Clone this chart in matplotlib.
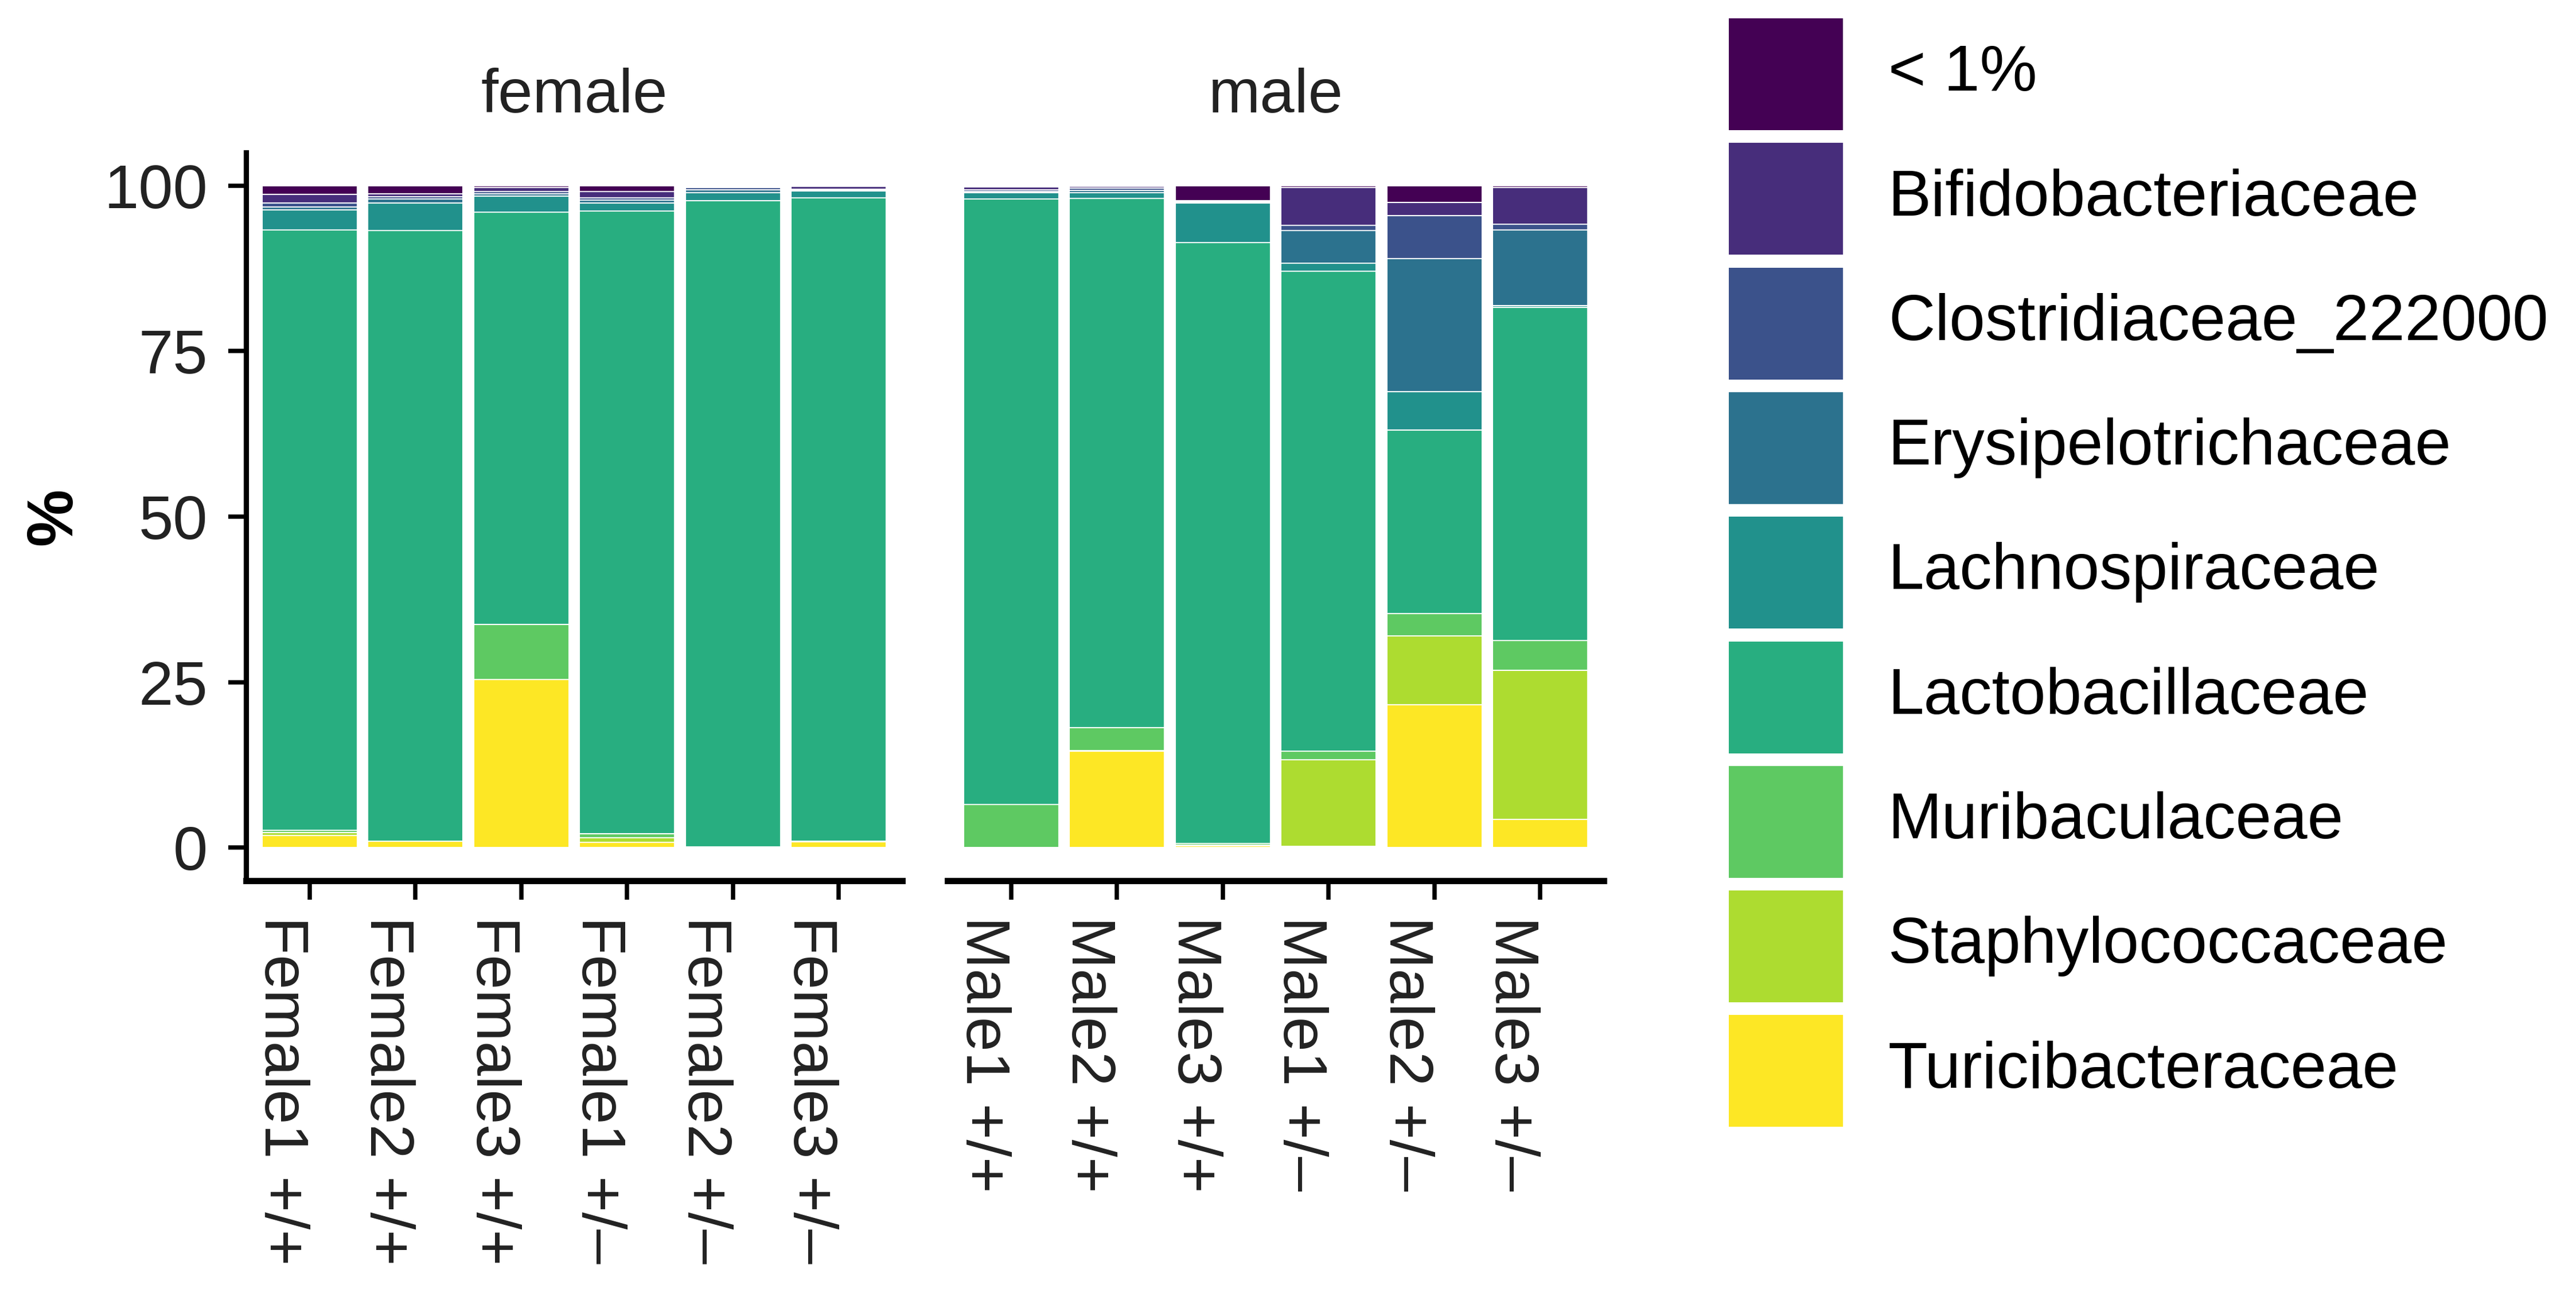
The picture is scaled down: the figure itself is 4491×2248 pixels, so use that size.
import matplotlib

matplotlib.use("Agg")
import matplotlib.pyplot as plt
import numpy as np
from matplotlib.patches import Rectangle

plt.rcParams["font.family"] = ["Liberation Sans", "DejaVu Sans"]

samples = ["Female1 +/+", "Female2 +/+", "Female3 +/+", "Female1 +/–", "Female2 +/–", "Female3 +/–",
           "Male1 +/+", "Male2 +/+", "Male3 +/+", "Male1 +/–", "Male2 +/–", "Male3 +/–"]
sex = ["female"] * 6 + ["male"] * 6

# % abundance per family, one value per sample (same order as `samples`)
lt1 = [1.3, 1.2, 0.3, 0.9, 0.1, 0.1, 0.2, 0.1, 2.3, 0.3, 2.5, 0.3]
bifido = [1.3, 0.5, 0.6, 0.9, 0.2, 0.4, 0.4, 0.3, 0.1, 5.7, 2.0, 5.5]
clostrid = [0.6, 0.3, 0.3, 0.4, 0.3, 0.1, 0.3, 0.3, 0.1, 0.8, 6.5, 0.9]
erysip = [0.5, 0.6, 0.4, 0.4, 0.5, 0.2, 0.2, 0.4, 0.1, 4.9, 20.1, 11.4]
lachno = [3.0, 4.2, 2.4, 1.2, 1.2, 1.0, 0.9, 0.8, 6.0, 1.2, 5.8, 0.3]
lacto = [90.7, 92.2, 62.3, 94.1, 97.6, 97.2, 91.5, 80.0, 90.8, 72.5, 27.7, 50.3]
muri = [0.3, 0.0, 8.3, 0.6, 0.1, 0.1, 6.5, 3.4, 0.2, 1.3, 3.4, 4.5]
staph = [0.5, 0.0, 0.0, 0.7, 0.0, 0.0, 0.0, 0.1, 0.1, 13.1, 10.4, 22.5]
turici = [1.8, 1.0, 25.4, 0.8, 0.0, 0.9, 0.0, 14.6, 0.3, 0.2, 21.6, 4.3]

families = ["< 1%", "Bifidobacteriaceae", "Clostridiaceae_222000", "Erysipelotrichaceae",
            "Lachnospiraceae", "Lactobacillaceae", "Muribaculaceae", "Staphylococcaceae",
            "Turicibacteraceae"]
values = [lt1, bifido, clostrid, erysip, lachno, lacto, muri, staph, turici]
colors = plt.get_cmap("viridis")(np.linspace(0, 1, len(families)))

W, H = 4491, 2248
fig = plt.figure(figsize=(W / 300, H / 300), dpi=300)

FS = 26
TXT = "#222222"
panels = ["female", "male"]
lefts = [429, 1652]
for k, (panel, left) in enumerate(zip(panels, lefts)):
    ax = fig.add_axes([left / W, 712 / H, 1144 / W, 1270 / H])
    idx = [i for i, s in enumerate(sex) if s == panel]
    x = np.arange(1, len(idx) + 1)
    bottom = np.zeros(len(idx))
    # ggplot stacks the last level at the bottom
    for fam, vals, col in reversed(list(zip(families, values, colors))):
        v = np.array([vals[i] for i in idx])
        ax.bar(x, v, width=0.9, bottom=bottom, color=col, edgecolor="white", linewidth=0.5)
        bottom += v
    ax.set_xlim(0.4, len(idx) + 0.6)
    ax.set_ylim(-5, 105)
    ax.set_xticks(x)
    ax.set_xticklabels([samples[i] for i in idx], rotation=-90, ha="right", va="top",
                       fontsize=FS, color=TXT)
    for s in ["top", "right"]:
        ax.spines[s].set_visible(False)
    ax.spines["bottom"].set_linewidth(2.6)
    ax.tick_params(axis="x", length=8, width=1.8, pad=7)
    if k == 0:
        ax.spines["left"].set_linewidth(2.2)
        ax.set_yticks([0, 25, 50, 75, 100])
        ax.set_yticklabels(["0", "25", "50", "75", "100"], fontsize=FS, color=TXT)
        ax.tick_params(axis="y", length=7.5, width=1.8, pad=8.5)
    else:
        ax.spines["left"].set_visible(False)
        ax.set_yticks([])
    pos = ax.get_position()
    fig.text((pos.x0 + pos.x1) / 2, 1 - 168 / H, panel, ha="center", va="center",
             fontsize=FS, color=TXT)

fig.text(95 / W, 1 - 901 / H, "%", rotation=90, ha="center", va="center",
         fontsize=27, fontweight="bold", color="black")

# legend keys
lax = fig.add_axes([0, 0, 1, 1])
lax.set_xlim(0, W)
lax.set_ylim(H, 0)
lax.axis("off")
for i, (fam, col) in enumerate(zip(families, colors)):
    top = 32 + i * 217.3
    lax.add_patch(Rectangle((3014, top), 199, 195, facecolor=col, edgecolor="none"))
    lax.text(3292, top + 97, fam, ha="left", va="center", fontsize=27, color="black")

fig.savefig("out.png", dpi=300)
